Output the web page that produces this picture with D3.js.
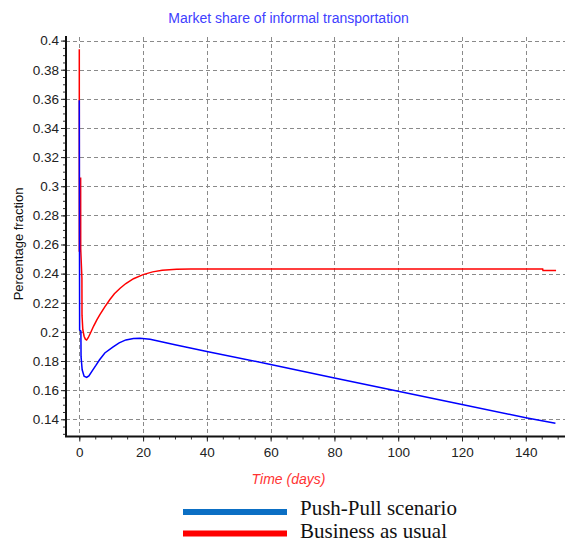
<!DOCTYPE html>
<html>
<head>
<meta charset="utf-8">
<script src="https://cdn.jsdelivr.net/npm/d3@7/dist/d3.min.js"></script>
<style>
  html, body { margin: 0; padding: 0; background: #fff; }
  svg { display: block; }
  .tick text { font-family: "Liberation Sans", Arial, sans-serif; }
</style>
</head>
<body>
<svg id="chart" width="565" height="544"></svg>
<script>
// Market share of informal transportation (fraction) over simulated time (days)
const chartTitle = "Market share of informal transportation";
const xTitle = "Time (days)";
const yTitle = "Percentage fraction";

const xTickValues = [0, 20, 40, 60, 80, 100, 120, 140];
const yTickValues = [0.14, 0.16, 0.18, 0.2, 0.22, 0.24, 0.26, 0.28, 0.3, 0.32, 0.34, 0.36, 0.38, 0.4];

// Push-Pull scenario
const pushPullTime  = [0, 0.1, 0.5, 0.55, 0.9, 1.5, 2.3, 3.0, 4.2, 5.2, 6.3, 8, 10.5, 12.5, 14.6, 17, 19, 22.2, 30, 40, 60, 80, 100, 120, 140, 149.3];
const pushPullShare = [0.359, 0.2012, 0.2005, 0.183, 0.174, 0.1695, 0.1687, 0.1698, 0.1738, 0.177, 0.1807, 0.1855, 0.1895, 0.1925, 0.1945, 0.1955, 0.1957, 0.1949, 0.1912, 0.1866, 0.1776, 0.1684, 0.1593, 0.1502, 0.1411, 0.1372];

// Business as usual
const bauTime  = [0, 0, 0.42, 0.44, 0.82, 0.85, 1.1, 1.5, 1.9, 2.3, 2.8, 3.5, 4.5, 5.5, 6.5, 8, 9.6, 11, 12.8, 14.6, 17, 20, 23, 26, 30.5, 35, 145.3, 145.4, 149.5];
const bauShare = [0.394, 0.255, 0.306, 0.257, 0.237, 0.2115, 0.2015, 0.197, 0.195, 0.1944, 0.196, 0.1992, 0.204, 0.2083, 0.212, 0.2172, 0.2222, 0.2262, 0.23, 0.2332, 0.2365, 0.2393, 0.2412, 0.2423, 0.243, 0.2431, 0.2431, 0.2421, 0.2421];

const legendLabels = ["Push-Pull scenario", "Business as usual"];

const svg = d3.select("#chart");
const plot = { left: 66, right: 565, top: 36, bottom: 436.5 };

const x = d3.scaleLinear().domain([-4.17, 152.3]).range([plot.left, plot.right]);
const y = d3.scaleLinear().domain([0.12817, 0.40316]).range([plot.bottom, plot.top]);

const sans = '"Liberation Sans", Arial, sans-serif';

// grid
const grid = svg.append("g").attr("stroke", "#8a8a8a").attr("stroke-width", 1).attr("stroke-dasharray", "4,3");
grid.selectAll("line.h").data(yTickValues).join("line")
  .attr("class", "h")
  .attr("x1", plot.left).attr("x2", plot.right)
  .attr("y1", d => Math.round(y(d)) + 0.5).attr("y2", d => Math.round(y(d)) + 0.5);
grid.selectAll("line.v").data(xTickValues).join("line")
  .attr("class", "v")
  .attr("y1", plot.top + 1).attr("y2", plot.bottom - 3)
  .attr("x1", d => Math.round(x(d)) + 0.5).attr("x2", d => Math.round(x(d)) + 0.5);

// minor ticks
svg.append("g")
  .attr("transform", `translate(${plot.left},0)`)
  .call(d3.axisLeft(y).tickValues(d3.range(0.13, 0.4031, 0.005)).tickSize(3).tickFormat(""))
  .call(g => g.select(".domain").remove())
  .call(g => g.selectAll("line").attr("stroke", "#333"));
svg.append("g")
  .attr("transform", `translate(0,${plot.bottom})`)
  .call(d3.axisBottom(x).tickValues(d3.range(0, 151, 5)).tickSize(3).tickFormat(""))
  .call(g => g.select(".domain").remove())
  .call(g => g.selectAll("line").attr("stroke", "#333"));

// major axes
const yAxis = svg.append("g")
  .attr("transform", `translate(${plot.left},0)`)
  .call(d3.axisLeft(y).tickValues(yTickValues).tickSize(5).tickPadding(2).tickFormat(d => d3.format("")(+d.toFixed(2))));
yAxis.select(".domain").remove();
yAxis.selectAll("line").attr("stroke", "#222");
yAxis.selectAll("text").attr("font-size", 13.5).attr("fill", "#222").attr("font-family", sans);

const xAxis = svg.append("g")
  .attr("transform", `translate(0,${plot.bottom})`)
  .call(d3.axisBottom(x).tickValues(xTickValues).tickSize(5).tickPadding(6));
xAxis.select(".domain").remove();
xAxis.selectAll("line").attr("stroke", "#222");
xAxis.selectAll("text").attr("font-size", 13.5).attr("fill", "#222").attr("font-family", sans);

// axis lines
svg.append("path")
  .attr("d", `M${plot.left},${plot.top}V${plot.bottom}H${plot.right}`)
  .attr("fill", "none").attr("stroke", "#111").attr("stroke-width", 2);

// series
const line = d3.line().x(d => x(d[0])).y(d => y(d[1]));
svg.append("path")
  .datum(d3.zip(bauTime, bauShare))
  .attr("d", line).attr("fill", "none").attr("stroke", "#ff0000").attr("stroke-width", 1.5);
svg.append("path")
  .datum(d3.zip(pushPullTime, pushPullShare))
  .attr("d", line).attr("fill", "none").attr("stroke", "#0000ff").attr("stroke-width", 1.5);

// titles
svg.append("text").attr("x", 288.5).attr("y", 23)
  .attr("text-anchor", "middle").attr("font-family", sans).attr("font-size", 14)
  .attr("fill", "#4040ff").text(chartTitle);
svg.append("text").attr("transform", "translate(23,244) rotate(-90)")
  .attr("text-anchor", "middle").attr("font-family", sans).attr("font-size", 13)
  .attr("fill", "#111").text(yTitle);
svg.append("text").attr("x", 288.5).attr("y", 484)
  .attr("text-anchor", "middle").attr("font-family", sans).attr("font-size", 14)
  .attr("font-style", "italic").attr("fill", "#ff3333").text(xTitle);

// legend
const legendColors = ["#0b6fc4", "#ff0000"];
const legend = svg.append("g");
legendLabels.forEach((lbl, i) => {
  const cy = 512 + i * 21.5;
  legend.append("rect").attr("x", 183).attr("y", cy - 3).attr("width", 104).attr("height", 6)
    .attr("fill", legendColors[i]);
  legend.append("text").attr("x", 300).attr("y", cy + 4 + (i ? 0 : -1))
    .attr("font-family", '"Liberation Serif", "Times New Roman", serif').attr("font-size", 21)
    .attr("fill", "#111").text(lbl);
});
</script>
</body>
</html>
